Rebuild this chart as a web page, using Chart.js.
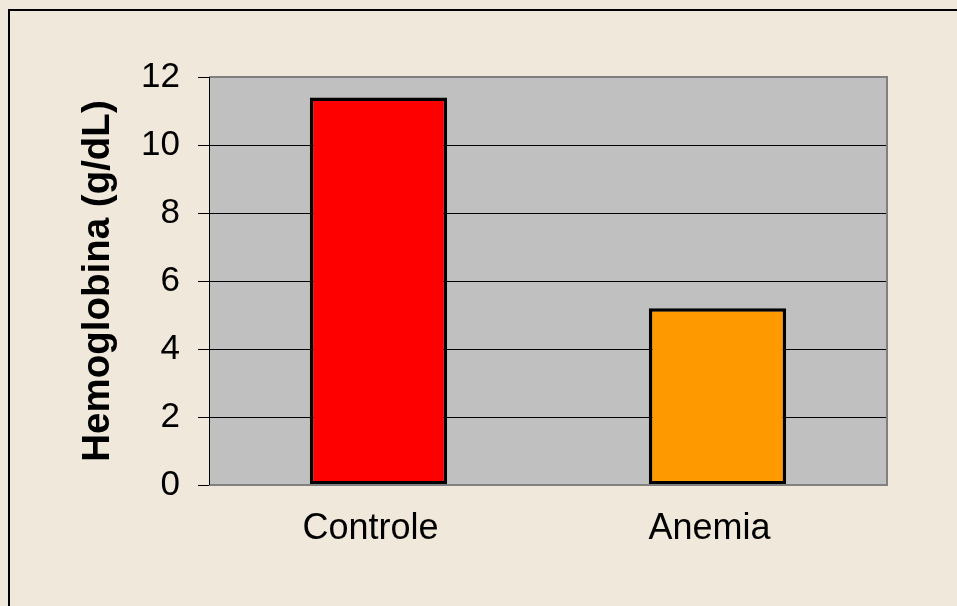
<!DOCTYPE html>
<html>
<head>
<meta charset="utf-8">
<script src="https://cdn.jsdelivr.net/npm/chart.js@4/dist/chart.umd.min.js"></script>
<style>
  html, body { margin: 0; padding: 0; background: #F0E8DA; width: 957px; height: 606px; overflow: hidden; }
  #frame { position: absolute; left: 8px; top: 9px; width: 1000px; height: 700px; border-left: 2px solid #000; border-top: 2px solid #000; box-sizing: border-box; }
  #c { position: absolute; left: 0; top: 0; }
</style>
</head>
<body>
<div id="frame"></div>
<canvas id="c" width="957" height="606"></canvas>
<script>
const categories = ["Controle", "Anemia"];
const hemoglobina = [11.4, 5.2];
const barColors = ["#FF0000", "#FF9900"];
const yTitle = "Hemoglobina (g/dL)";

const FONT = "'Liberation Sans', Arial, sans-serif";

const plotBg = {
  id: 'plotBg',
  beforeDraw(chart) {
    const {ctx, chartArea: a} = chart;
    ctx.save();
    ctx.fillStyle = '#C0C0C0';
    ctx.fillRect(a.left, a.top, a.right - a.left, a.bottom - a.top);
    ctx.restore();
  },
  afterDatasetsDraw(chart) {
    const {ctx, chartArea: a} = chart;
    ctx.save();
    ctx.strokeStyle = '#808080';
    ctx.lineWidth = 2;
    ctx.beginPath();
    ctx.moveTo(a.left, a.top);
    ctx.lineTo(a.right, a.top);
    ctx.lineTo(a.right, a.bottom);
    ctx.lineTo(a.left, a.bottom);
    ctx.stroke();
    ctx.strokeStyle = '#000';
    ctx.lineWidth = 1;
    ctx.beginPath();
    ctx.moveTo(a.left + 0.5, a.top);
    ctx.lineTo(a.left + 0.5, a.bottom);
    ctx.stroke();
    ctx.restore();
  }
};

new Chart(document.getElementById('c'), {
  type: 'bar',
  data: {
    labels: categories,
    datasets: [{
      data: hemoglobina,
      backgroundColor: barColors,
      borderColor: '#000',
      borderWidth: 3.5,
      borderSkipped: false,
      barPercentage: 0.405,
      categoryPercentage: 1.0
    }]
  },
  options: {
    responsive: false,
    animation: false,
    devicePixelRatio: 1,
    layout: { padding: { top: 77, right: 70, left: 0, bottom: 0 } },
    plugins: { legend: { display: false }, tooltip: { enabled: false } },
    scales: {
      x: {
        grid: { display: false, drawTicks: false },
        border: { display: false },
        ticks: { color: '#000', font: { family: FONT, size: 36 }, padding: 22, labelOffset: -8 },
        afterFit(s) { s.height = 121; }
      },
      y: {
        min: 0, max: 12,
        ticks: { stepSize: 2, color: '#000', font: { family: FONT, size: 35 }, padding: 18 },
        grid: {
          color: (c) => (c.index === 0 || c.index === 6) ? 'rgba(0,0,0,0)' : '#000',
          tickColor: '#000',
          tickLength: 11,
          lineWidth: 1
        },
        border: { display: false },
        title: {
          display: true, text: yTitle, color: '#000',
          font: { family: FONT, size: 38.5, weight: 'bold', lineHeight: 1 },
          padding: { top: 79, bottom: 0 }
        },
        afterFit(s) { s.width = 209; }
      }
    }
  },
  plugins: [plotBg]
});
</script>
</body>
</html>
